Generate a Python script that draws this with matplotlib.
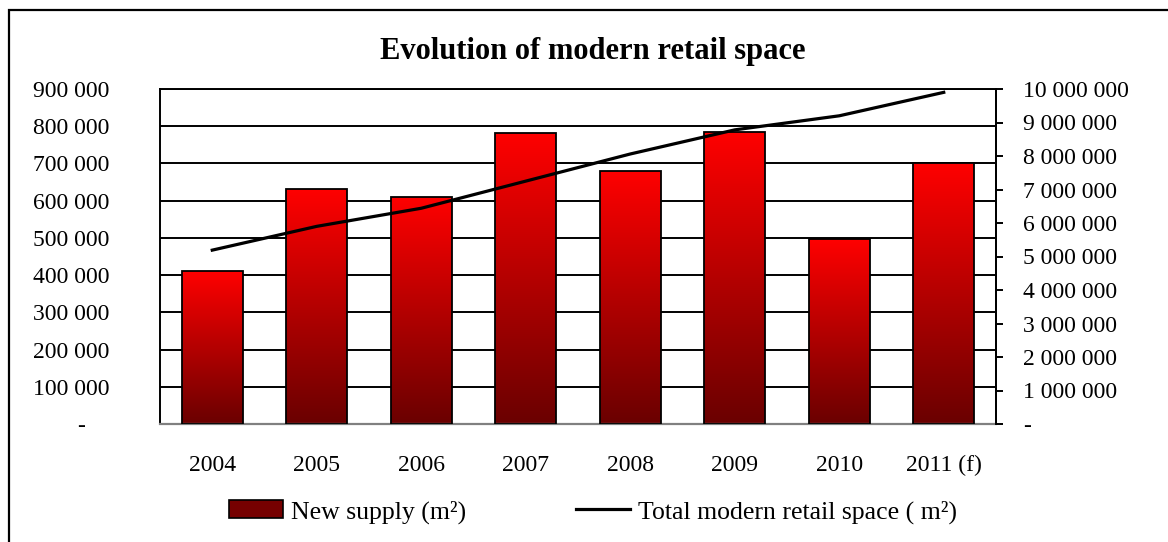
import matplotlib
matplotlib.use("Agg")
import matplotlib.pyplot as plt
import numpy as np
from matplotlib.ticker import FuncFormatter, MultipleLocator
from matplotlib.patches import Rectangle
from matplotlib.lines import Line2D
from matplotlib.colors import LinearSegmentedColormap

years = ["2004", "2005", "2006", "2007", "2008", "2009", "2010", "2011 (f)"]
new_supply = [412000, 632000, 611000, 783000, 681000, 785000, 497000, 702000]
total_space = [5190000, 5900000, 6440000, 7250000, 8060000, 8780000, 9200000, 9900000]

plt.rcParams['font.family'] = ['Liberation Serif', 'DejaVu Serif']

W, H = 1168, 542
FS = 17
fig = plt.figure(figsize=(W / 100, H / 100), dpi=100)
ax = fig.add_axes([160 / W, 1 - 424 / H, (996 - 160) / W, (424 - 89) / H])

x = np.arange(len(years))
bw = 0.58
cmap = LinearSegmentedColormap.from_list("redgrad", ["#6a0000", "#ff0000"])
grad = np.linspace(0, 1, 256).reshape(-1, 1)

bars = ax.bar(x, new_supply, width=bw, facecolor='none', edgecolor='black', linewidth=1.3, zorder=3)
for b in bars:
    x0 = b.get_x()
    h = b.get_height()
    im = ax.imshow(grad, cmap=cmap, origin='lower', aspect='auto',
                   extent=[x0, x0 + b.get_width(), 0, h], zorder=2.5, interpolation='bilinear')
    im.set_clip_path(b)

ax.set_xlim(-0.5, len(years) - 0.5)
ax.set_ylim(0, 900000)
ax.yaxis.set_major_locator(MultipleLocator(100000))


def fmt_left(v, pos):
    if abs(v) < 1e-6:
        return '-\u2007\u2007'
    return '{:,.0f}'.format(v).replace(',', ' ')


def fmt_right(v, pos):
    if abs(v) < 1e-6:
        return '-'
    return '{:,.0f}'.format(v).replace(',', ' ')


ax.yaxis.set_major_formatter(FuncFormatter(fmt_left))
ax.grid(axis='y', color='black', linewidth=1.4, zorder=1)
ax.set_axisbelow(True)
ax.set_xticks(x)
ax.set_xticklabels(years)
ax.tick_params(axis='x', length=0, pad=22, labelsize=FS)
ax.tick_params(axis='y', length=0, pad=36.5, labelsize=FS)
for s in ['top', 'left', 'right']:
    ax.spines[s].set_color('black')
    ax.spines[s].set_linewidth(1.4)
ax.spines['bottom'].set_color('#808080')
ax.spines['bottom'].set_linewidth(1.6)

ax2 = ax.twinx()
ax2.plot(x, total_space, color='black', linewidth=2.3, zorder=5)
ax2.set_ylim(0, 10000000)
ax2.yaxis.set_major_locator(MultipleLocator(1000000))
ax2.yaxis.set_major_formatter(FuncFormatter(fmt_right))
ax2.tick_params(axis='y', direction='out', length=5, width=1.4, pad=14.5, labelsize=FS, color='black')
ax2.spines['right'].set_linewidth(1.4)
ax2.spines['bottom'].set_visible(False)
ax2.spines['top'].set_visible(False)
ax2.spines['left'].set_visible(False)

fig.text(593 / W, 1 - 52 / H, "Evolution of modern retail space", ha='center', va='center',
         fontsize=22, fontweight='bold')

LFS = 18.5
handles = [Rectangle((0, 0), 1, 1, facecolor='#760000', edgecolor='black', linewidth=1.2),
           Line2D([0], [0], color='black', linewidth=2.3)]
labels = ["New supply (m²)", "Total modern retail space ( m²)"]
fig.legend(handles, labels, loc='center', bbox_to_anchor=(593 / W, 1 - 512 / H), ncol=2,
           frameon=False, fontsize=LFS, columnspacing=4.3, handlelength=2.1, handletextpad=0.3,
           borderpad=0, borderaxespad=0)

fig.patches.append(Rectangle((9 / W, -0.1), 1.2, (1 - 10 / H) + 0.1,
                             transform=fig.transFigure, fill=False, edgecolor='black',
                             linewidth=1.6))

fig.savefig("out.png", dpi=100)
